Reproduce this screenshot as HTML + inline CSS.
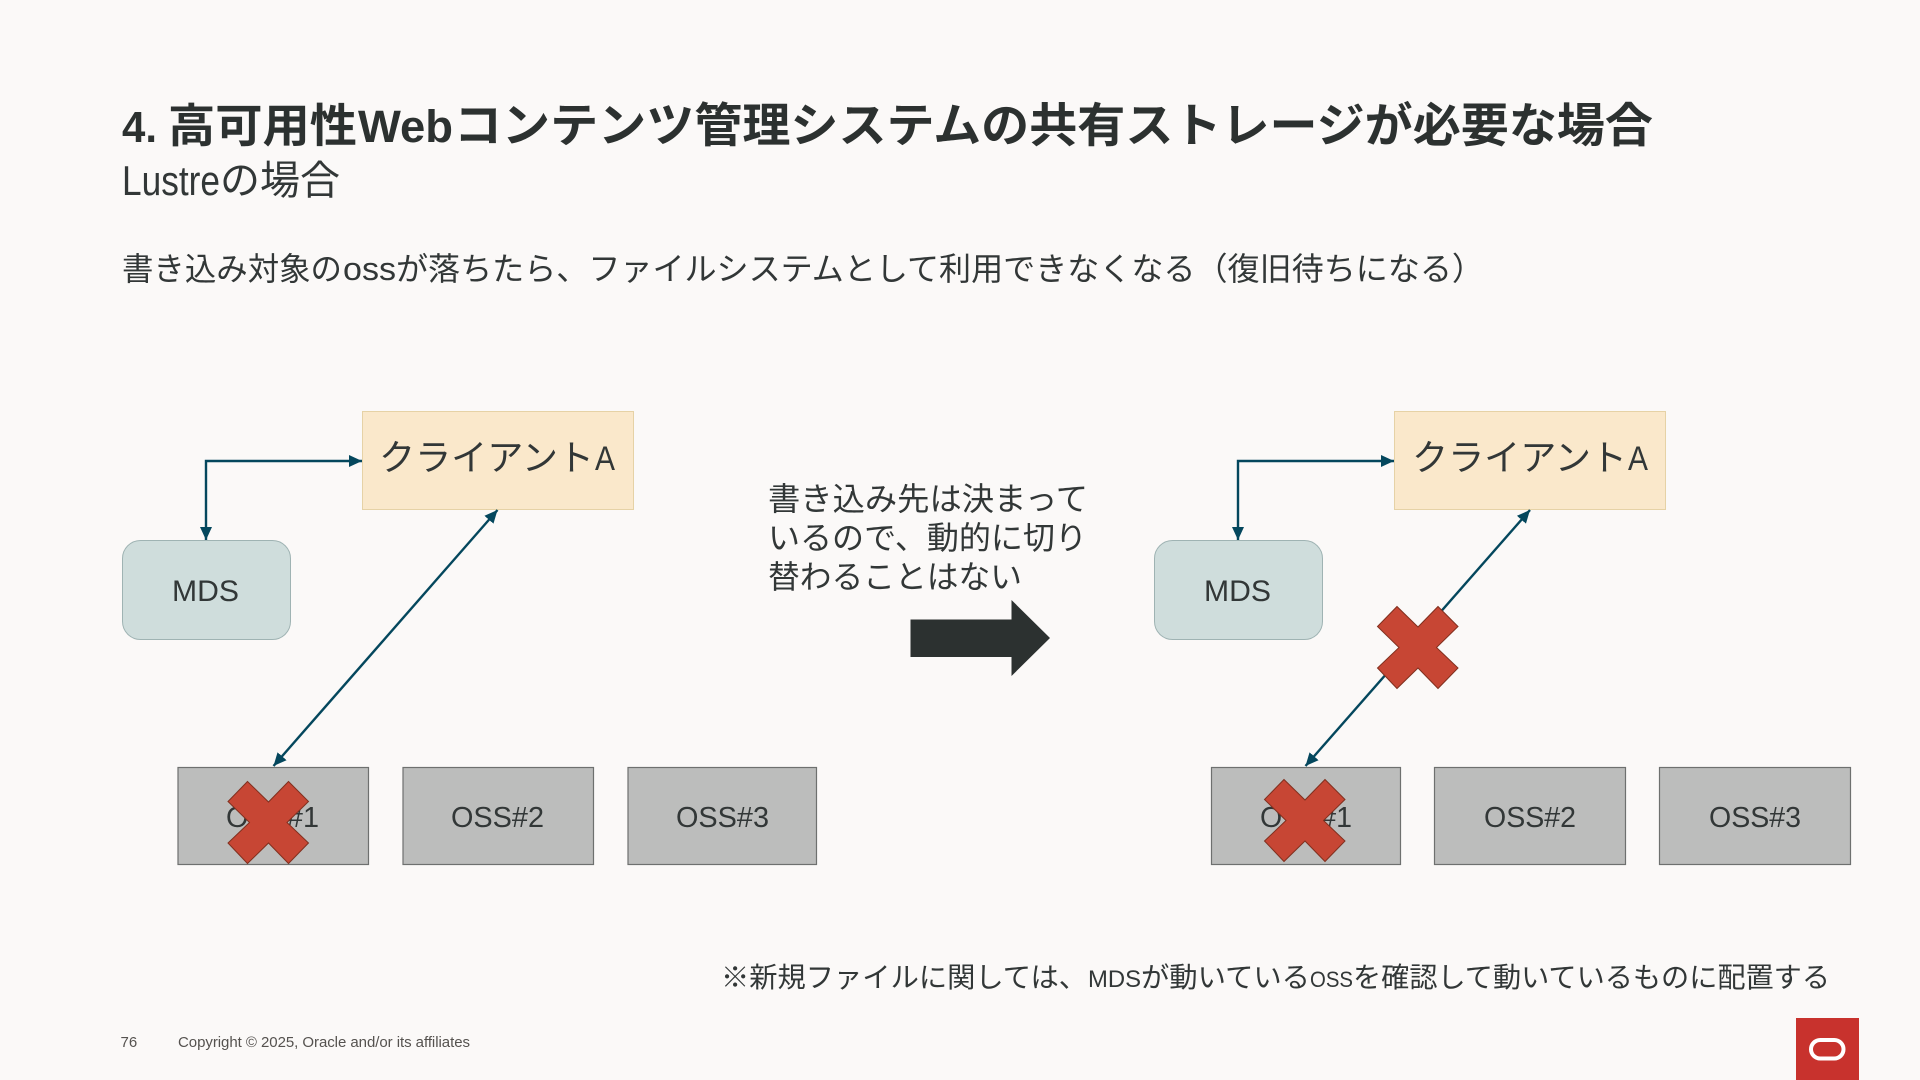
<!DOCTYPE html>
<html lang="ja"><head><meta charset="utf-8"><title>Lustreの場合</title>
<style>
html,body{margin:0;padding:0;background:#fbf9f8;width:1920px;height:1080px;overflow:hidden}
svg{display:block}
text{font-family:"Liberation Sans","Noto Sans CJK JP",sans-serif;fill:#323737}
.n{font-family:"Liberation Sans Narrow","Liberation Sans",sans-serif}
.b{font-weight:700;fill:#2c3130}
.f{fill:#55524f;font-family:"Liberation Sans Narrow","Liberation Sans",sans-serif}
</style></head><body>
<svg width="1920" height="1080" viewBox="0 0 1920 1080" xmlns="http://www.w3.org/2000/svg">
<defs>
<marker id="a" viewBox="0 0 13 12" refX="13" refY="6" markerWidth="13" markerHeight="12" markerUnits="userSpaceOnUse" orient="auto-start-reverse"><path d="M0 0L13 6L0 12Z" fill="#04475d"/></marker>
<polygon id="x" points="20,0.5 41,21 61,0.5 81,20.5 59.5,41.5 81,62 61,82.5 41,62 20,82.5 0.5,62 22,41.5 0.5,20.5" fill="#c74634" stroke="#80301f" stroke-width="1"/>
</defs>
<rect width="1920" height="1080" fill="#fbf9f8"/>

<!-- title -->
<text x="122" y="142" font-size="44" textLength="35" lengthAdjust="spacingAndGlyphs" class="b">4.</text>
<text x="168" y="142" font-size="46" textLength="189" lengthAdjust="spacingAndGlyphs" class="b">高可用性</text>
<text x="358" y="142" font-size="45" textLength="95" lengthAdjust="spacingAndGlyphs" class="b">Web</text>
<text x="454" y="142" font-size="47" textLength="1199" lengthAdjust="spacingAndGlyphs" class="b">コンテンツ管理システムの共有ストレージが必要な場合</text>

<text x="122" y="195" font-size="42" textLength="98" lengthAdjust="spacingAndGlyphs" class="n">Lustre</text>
<text x="220" y="194" font-size="40" textLength="120" lengthAdjust="spacingAndGlyphs">の場合</text>

<text x="122" y="280" font-size="32" textLength="220" lengthAdjust="spacingAndGlyphs">書き込み対象の</text>
<text x="343" y="280" font-size="32" textLength="53" lengthAdjust="spacingAndGlyphs">oss</text>
<text x="396" y="280" font-size="32" textLength="1088" lengthAdjust="spacingAndGlyphs">が落ちたら、ファイルシステムとして利用できなくなる（復旧待ちになる）</text>

<!-- left -->
<rect x="362.5" y="411.5" width="271" height="98" fill="#fae8cb" stroke="#e6d2a6" stroke-width="1"/>
<text x="379" y="470" font-size="36" textLength="215" lengthAdjust="spacingAndGlyphs">クライアント</text>
<text x="595" y="470" font-size="34" textLength="20" lengthAdjust="spacingAndGlyphs" class="n">A</text>
<rect x="122.5" y="540.5" width="168" height="99" rx="18" fill="#cfdddc" stroke="#9fb3b3" stroke-width="1"/>
<text x="172" y="601" font-size="30" textLength="67" lengthAdjust="spacingAndGlyphs">MDS</text>
<g fill="#bcbdbc" stroke="#6e706f" stroke-width="1.2">
<rect x="178" y="767.5" width="190.5" height="97"/>
<rect x="403" y="767.5" width="190.5" height="97"/>
<rect x="628" y="767.5" width="188.5" height="97"/>
</g>
<text x="226" y="827" font-size="29" textLength="93" lengthAdjust="spacingAndGlyphs">OSS#1</text>
<text x="451" y="827" font-size="29" textLength="93" lengthAdjust="spacingAndGlyphs">OSS#2</text>
<text x="676" y="827" font-size="29" textLength="93" lengthAdjust="spacingAndGlyphs">OSS#3</text>
<path d="M362 461H206V540" fill="none" stroke="#04475d" stroke-width="2.4" marker-start="url(#a)" marker-end="url(#a)"/>
<line x1="497.5" y1="510" x2="273.5" y2="766" stroke="#04475d" stroke-width="2.4" marker-start="url(#a)" marker-end="url(#a)"/>
<use href="#x" x="227.5" y="781"/>

<!-- middle -->
<text x="768" y="510" font-size="32" textLength="320" lengthAdjust="spacingAndGlyphs">書き込み先は決まって</text>
<text x="768" y="549" font-size="32" textLength="319" lengthAdjust="spacingAndGlyphs">いるので、動的に切り</text>
<text x="768" y="588" font-size="32" textLength="254" lengthAdjust="spacingAndGlyphs">替わることはない</text>
<polygon points="910.5,619.5 1011.5,619.5 1011.5,600 1050,638 1011.5,676 1011.5,657 910.5,657" fill="#2c3130"/>

<!-- right -->
<rect x="1394.5" y="411.5" width="271" height="98" fill="#fae8cb" stroke="#e6d2a6" stroke-width="1"/>
<text x="1412" y="470" font-size="36" textLength="215" lengthAdjust="spacingAndGlyphs">クライアント</text>
<text x="1628" y="470" font-size="34" textLength="20" lengthAdjust="spacingAndGlyphs" class="n">A</text>
<rect x="1154.5" y="540.5" width="168" height="99" rx="18" fill="#cfdddc" stroke="#9fb3b3" stroke-width="1"/>
<text x="1204" y="601" font-size="30" textLength="67" lengthAdjust="spacingAndGlyphs">MDS</text>
<g fill="#bcbdbc" stroke="#6e706f" stroke-width="1.2">
<rect x="1211.5" y="767.5" width="189" height="97"/>
<rect x="1434.5" y="767.5" width="191" height="97"/>
<rect x="1659.5" y="767.5" width="191" height="97"/>
</g>
<text x="1260" y="827" font-size="29" textLength="92" lengthAdjust="spacingAndGlyphs">OSS#1</text>
<text x="1484" y="827" font-size="29" textLength="92" lengthAdjust="spacingAndGlyphs">OSS#2</text>
<text x="1709" y="827" font-size="29" textLength="92" lengthAdjust="spacingAndGlyphs">OSS#3</text>
<path d="M1394 461H1238V540" fill="none" stroke="#04475d" stroke-width="2.4" marker-start="url(#a)" marker-end="url(#a)"/>
<line x1="1530" y1="510" x2="1305.5" y2="766" stroke="#04475d" stroke-width="2.4" marker-start="url(#a)" marker-end="url(#a)"/>
<use href="#x" x="1377" y="606"/>
<use href="#x" x="1264" y="779"/>

<!-- note -->
<text x="721" y="987" font-size="28" textLength="366" lengthAdjust="spacingAndGlyphs">※新規ファイルに関しては、</text>
<text x="1088" y="987" font-size="24" textLength="53" lengthAdjust="spacingAndGlyphs">MDS</text>
<text x="1141" y="987" font-size="28" textLength="169" lengthAdjust="spacingAndGlyphs">が動いている</text>
<text x="1310" y="987" font-size="22" textLength="43" lengthAdjust="spacingAndGlyphs">OSS</text>
<text x="1353" y="987" font-size="28" textLength="477" lengthAdjust="spacingAndGlyphs">を確認して動いているものに配置する</text>

<!-- footer -->
<text x="120.5" y="1047" font-size="15" class="f">76</text>
<text x="178" y="1047" font-size="15" textLength="292" lengthAdjust="spacing" class="f">Copyright © 2025, Oracle and/or its affiliates</text>

<rect x="1796" y="1018" width="63" height="62" fill="#c8322d"/>
<rect x="1811" y="1040" width="32.5" height="18.5" rx="9.25" fill="none" stroke="#fff" stroke-width="4"/>
</svg>
</body></html>
